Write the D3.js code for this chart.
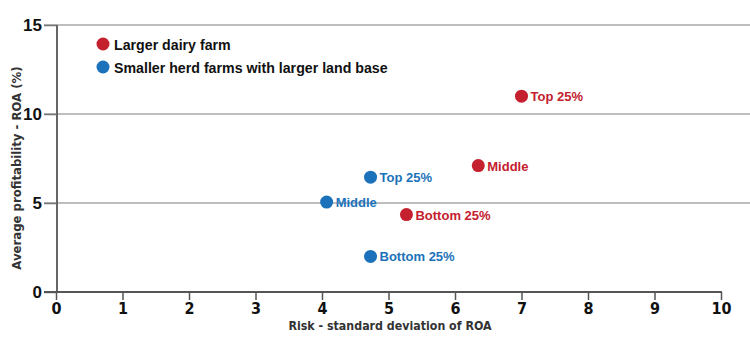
<!DOCTYPE html>
<html>
<head>
<meta charset="utf-8">
<script src="https://cdn.jsdelivr.net/npm/d3@7"></script>
<style>
  body { margin: 0; background: #fff; }
  svg { display: block; }
  .narrow { font-family: "DejaVu Sans", sans-serif; font-stretch: condensed; font-weight: bold; }
  .wide { font-family: "Liberation Sans", Arial, sans-serif; font-weight: bold; }
</style>
</head>
<body>
<svg id="chart" width="750" height="350"></svg>
<script>
// Dữ liệu
const groups = ["Larger dairy farm", "Smaller herd farms with larger land base"];
const colors = ["#c4202e", "#1b72ba"];
const pointLabels = ["Top 25%", "Middle", "Bottom 25%"];
const riskLarge = [7.0, 6.35, 5.27];
const roaLarge = [11.0, 7.1, 4.35];
const riskSmall = [4.73, 4.07, 4.73];
const roaSmall = [6.45, 5.05, 2.0];
const xTicks = [0, 1, 2, 3, 4, 5, 6, 7, 8, 9, 10];
const yTicks = [0, 5, 10, 15];

const points = [];
pointLabels.forEach((lab, i) => {
  points.push({ g: 0, label: lab, x: riskLarge[i], y: roaLarge[i] });
  points.push({ g: 1, label: lab, x: riskSmall[i], y: roaSmall[i] });
});

const svg = d3.select("#chart");

const x = d3.scaleLinear().domain([0, 10]).range([56, 721]);
const y = d3.scaleLinear().domain([0, 15]).range([292, 25]);

// Lưới ngang
svg.selectAll("line.grid")
  .data(yTicks.filter(d => d > 0))
  .enter().append("line")
    .attr("class", "grid")
    .attr("x1", 44).attr("x2", 750)
    .attr("y1", d => y(d)).attr("y2", d => y(d))
    .attr("stroke", "#a9a9a9")
    .attr("stroke-width", 1.5);

// Trục Y
const yAxis = svg.append("g")
  .attr("transform", `translate(${x(0) + 1},0)`)
  .call(d3.axisLeft(y).tickValues(yTicks).tickSize(13).tickPadding(2));
yAxis.select(".domain").remove();
yAxis.selectAll(".tick line").attr("stroke", "#777").attr("stroke-width", 1.5);
yAxis.selectAll("text")
  .attr("class", "wide")
  .style("font-size", "17px")
  .attr("fill", "#111");
svg.append("line")
  .attr("x1", x(0) + 1).attr("x2", x(0) + 1)
  .attr("y1", y(15)).attr("y2", y(0))
  .attr("stroke", "#666").attr("stroke-width", 2);

// Trục X
const xAxis = svg.append("g")
  .attr("transform", `translate(0,${y(0)})`)
  .call(d3.axisBottom(x).tickValues(xTicks).tickSize(8).tickPadding(3));
xAxis.select(".domain").remove();
xAxis.selectAll(".tick line").attr("stroke", "#555").attr("stroke-width", 1.5);
xAxis.selectAll("text")
  .attr("class", "narrow")
  .style("font-size", "16px")
  .attr("fill", "#111");
svg.append("line")
  .attr("x1", 44).attr("x2", x(10) + 1)
  .attr("y1", y(0)).attr("y2", y(0))
  .attr("stroke", "#555").attr("stroke-width", 2);

// Tên trục
svg.append("text")
  .attr("class", "narrow")
  .attr("x", 390)
  .attr("y", 330)
  .attr("text-anchor", "middle")
  .style("font-size", "12.3px")
  .attr("fill", "#333")
  .text("Risk - standard deviation of ROA");

svg.append("text")
  .attr("class", "narrow")
  .attr("transform", `translate(21,168) rotate(-90)`)
  .attr("text-anchor", "middle")
  .style("font-size", "13px")
  .attr("fill", "#333")
  .text("Average profitability - ROA (%)");

// Điểm
svg.selectAll("circle.pt")
  .data(points)
  .enter().append("circle")
    .attr("class", "pt")
    .attr("cx", d => x(d.x))
    .attr("cy", d => y(d.y))
    .attr("r", 6.5)
    .attr("fill", d => colors[d.g]);

svg.selectAll("text.pt")
  .data(points)
  .enter().append("text")
    .attr("class", "pt wide")
    .attr("x", d => x(d.x) + 9)
    .attr("y", d => y(d.y) + 5)
    .style("font-size", "13px")
    .attr("fill", d => colors[d.g])
    .text(d => d.label);

// Chú giải
const legend = svg.selectAll("g.legend")
  .data(groups)
  .enter().append("g")
    .attr("class", "legend")
    .attr("transform", (d, i) => `translate(103,${44 + i * 23})`);
legend.append("circle")
  .attr("r", 6.5)
  .attr("fill", (d, i) => colors[i]);
legend.append("text")
  .attr("class", "wide")
  .attr("x", 11)
  .attr("y", 5.5)
  .style("font-size", "14.2px")
  .attr("fill", "#111")
  .text(d => d);
</script>
</body>
</html>
